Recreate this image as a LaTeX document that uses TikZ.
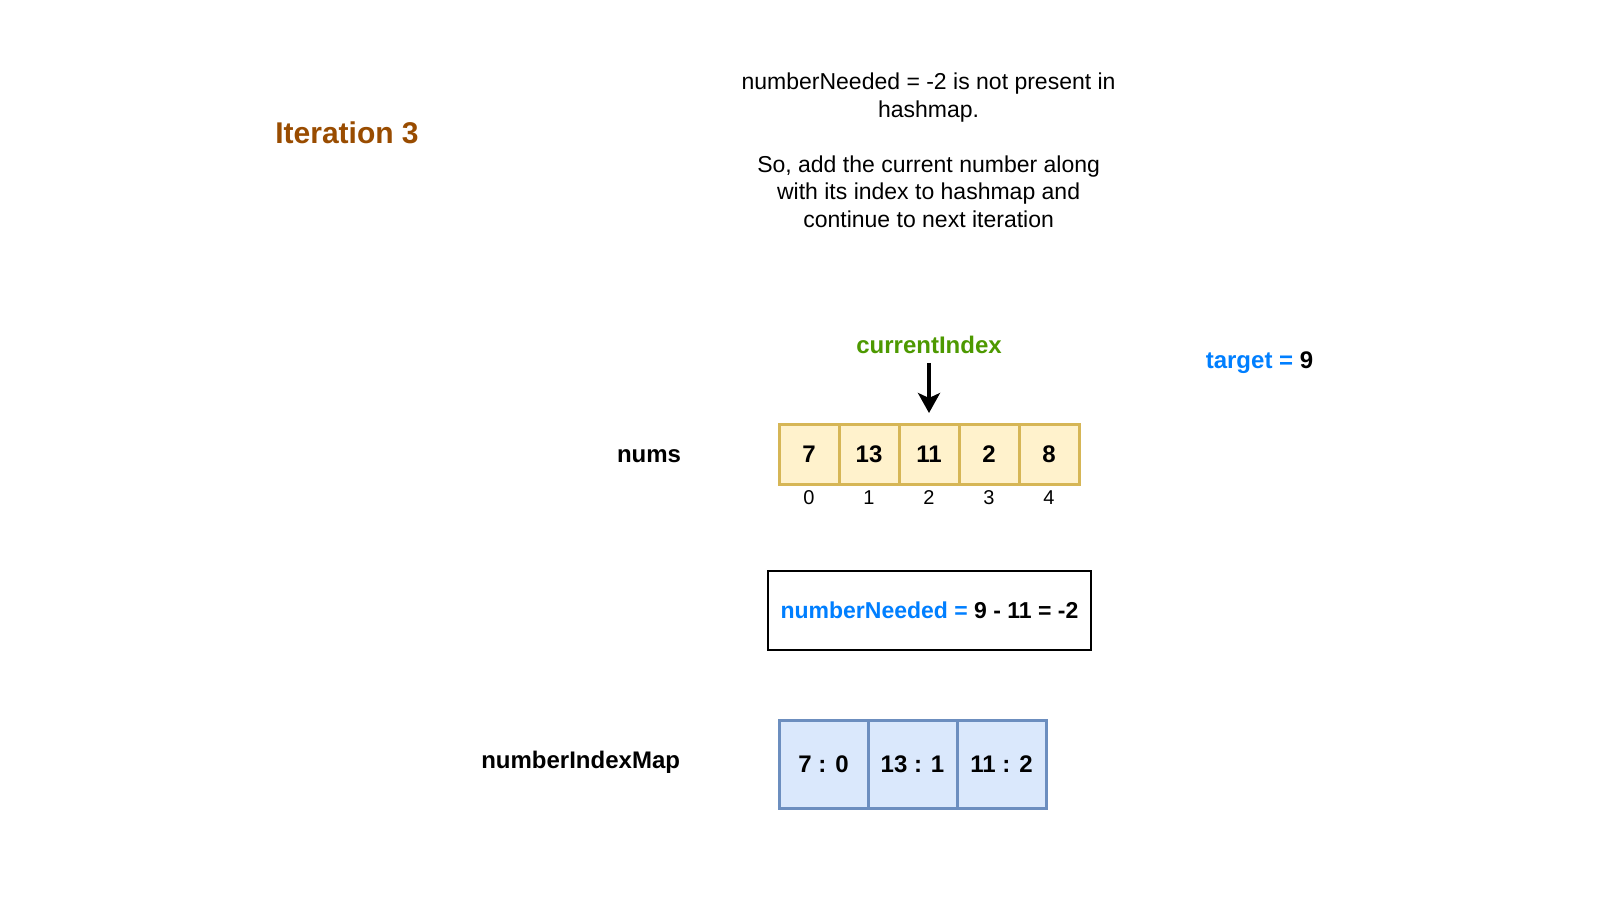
\documentclass[tikz,border=0pt]{standalone}
\usepackage{fontspec}
\setmainfont{Liberation Sans}
\usetikzlibrary{arrows.meta}
\definecolor{brownT}{HTML}{994C00}
\definecolor{greenT}{HTML}{4D9900}
\definecolor{blueT}{HTML}{007FFF}
\definecolor{cellfill}{HTML}{FFF2CC}
\definecolor{celldraw}{HTML}{D6B656}
\definecolor{mapfill}{HTML}{DAE8FC}
\definecolor{mapdraw}{HTML}{6C8EBF}
\newcommand{\fsz}[1]{\fontsize{#1pt}{1.2\dimexpr#1pt\relax}\selectfont}
\tikzset{
  txt/.style={inner sep=0pt, outer sep=0pt, text=black},
  boldtxt/.style={txt, font=\fsz{24}\bfseries},
  cellbox/.style={draw=celldraw, fill=cellfill, line width=3pt, minimum width=60pt, minimum height=60pt, inner sep=0pt, outer sep=0pt, font=\fsz{24}\bfseries},
  mapbox/.style={draw=mapdraw, fill=mapfill, line width=3pt, minimum width=89pt, minimum height=88pt, inner sep=0pt, outer sep=0pt, font=\fsz{24}\bfseries},
  idxlbl/.style={txt, font=\fsz{20}},
  arrowline/.style={line width=4pt, -{Stealth[length=20pt,width=22pt,inset=5pt]}}
}
\begin{document}
\begin{tikzpicture}[x=1pt,y=-1pt]
\useasboundingbox (0,0) rectangle (1600,900);
\fill[white] (0,0) rectangle (1600,900);

\node[txt, font=\fsz{30}\bfseries, text=brownT] (title) at (347,133) {Iteration 3};

\node[txt, font=\fontsize{23pt}{27.5pt}\selectfont, align=center] (desc) at (928.6,150.5)
  {numberNeeded = -2 is not present in\\ hashmap.\\[27.5pt] So, add the current number along\\ with its index to hashmap and\\ continue to next iteration};

\node[boldtxt] (target) at (1259.5,363) {\textcolor{blueT}{target =} 9};

\node[boldtxt, text=greenT] (ci) at (929,345) {currentIndex};

\foreach \v [count=\i from 0] in {7,13,11,2,8} {
  \node[cellbox] (c\i) at (809+60*\i,454) {\v};
  \node[idxlbl] (i\i) at (809+60*\i,498) {\i};
}

\draw[arrowline, shorten <=9pt, shorten >=11pt] (ci.south) -- (c2.north);

\node[boldtxt, anchor=east] (nums) at (681,456) {nums};

\node[draw=black, line width=1.2pt, minimum width=323pt, minimum height=79pt, inner sep=0pt, font=\fsz{23}\bfseries] (need) at (929.5,610.5)
  {\textcolor{blueT}{numberNeeded =} 9 - 11 = -2};

\node[mapbox] (m0) at (823.5,764.5) {7 : 0};
\node[mapbox] (m1) at (912.5,764.5) {13 : 1};
\node[mapbox] (m2) at (1001.5,764.5) {11 : 2};

\node[boldtxt, anchor=east] (nim) at (680,762) {numberIndexMap};
\end{tikzpicture}
\end{document}
